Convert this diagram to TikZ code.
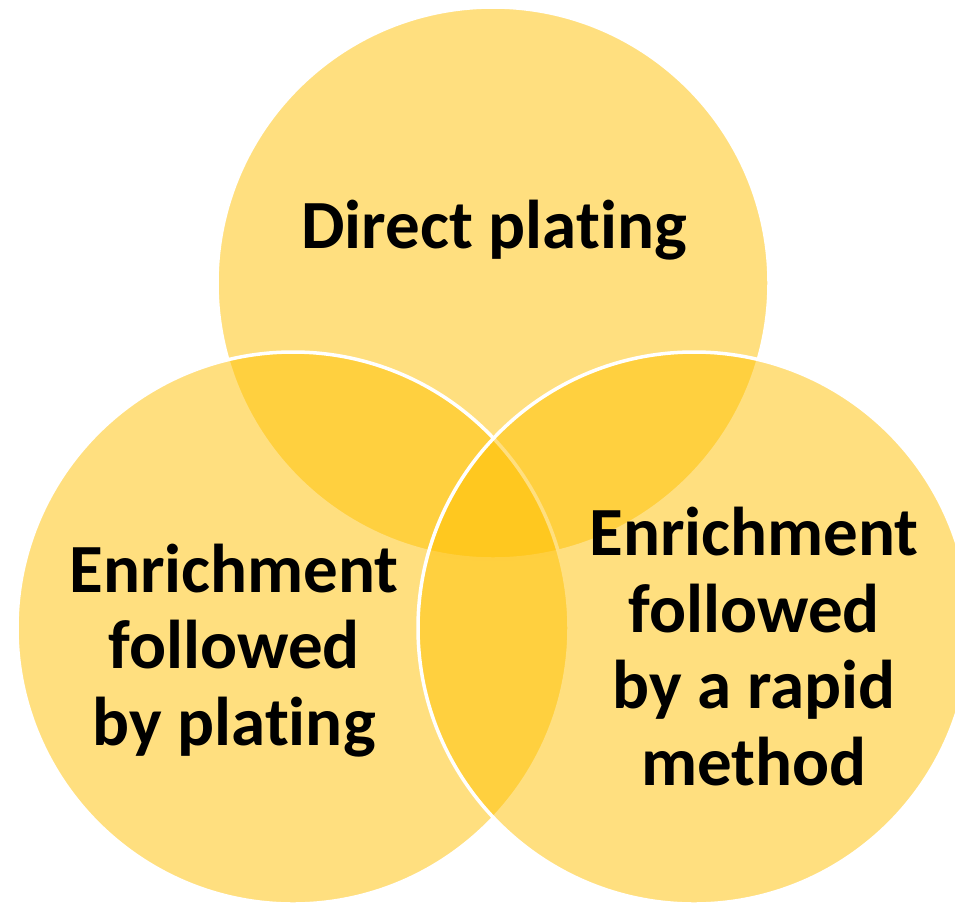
\documentclass[tikz,border=0pt]{standalone}
\usepackage{fontspec}
\setmainfont{Carlito}[Ligatures={NoCommon,NoContextual}]
\definecolor{vgold}{HTML}{FFC000}
\begin{document}
\begin{tikzpicture}[x=1pt,y=-1pt,
  venn/.style={fill=vgold, fill opacity=0.5, draw=white, line width=3.5pt},
  lbl/.style={font=\bfseries\fontsize{69}{76.5}\selectfont, align=center, inner sep=0pt, text=black}]
\useasboundingbox (0,0) rectangle (955,903);
\begin{scope}
\clip (0,0) rectangle (955,903);
\path[venn] (493,283) coordinate (ct) circle[radius=276];
\path[venn] (293,628) coordinate (cl) circle[radius=276];
\path[venn] (694,628) coordinate (cr) circle[radius=276];
\end{scope}
\node[lbl, anchor=base] (top) at (494,248) {Direct plating};
\node[lbl, anchor=base] (left) at (234,745) {Enrichment\\followed\\by plating};
\node[lbl, anchor=base] (right) at (754,785) {Enrichment\\followed\\by a rapid\\method};
\end{tikzpicture}
\end{document}
